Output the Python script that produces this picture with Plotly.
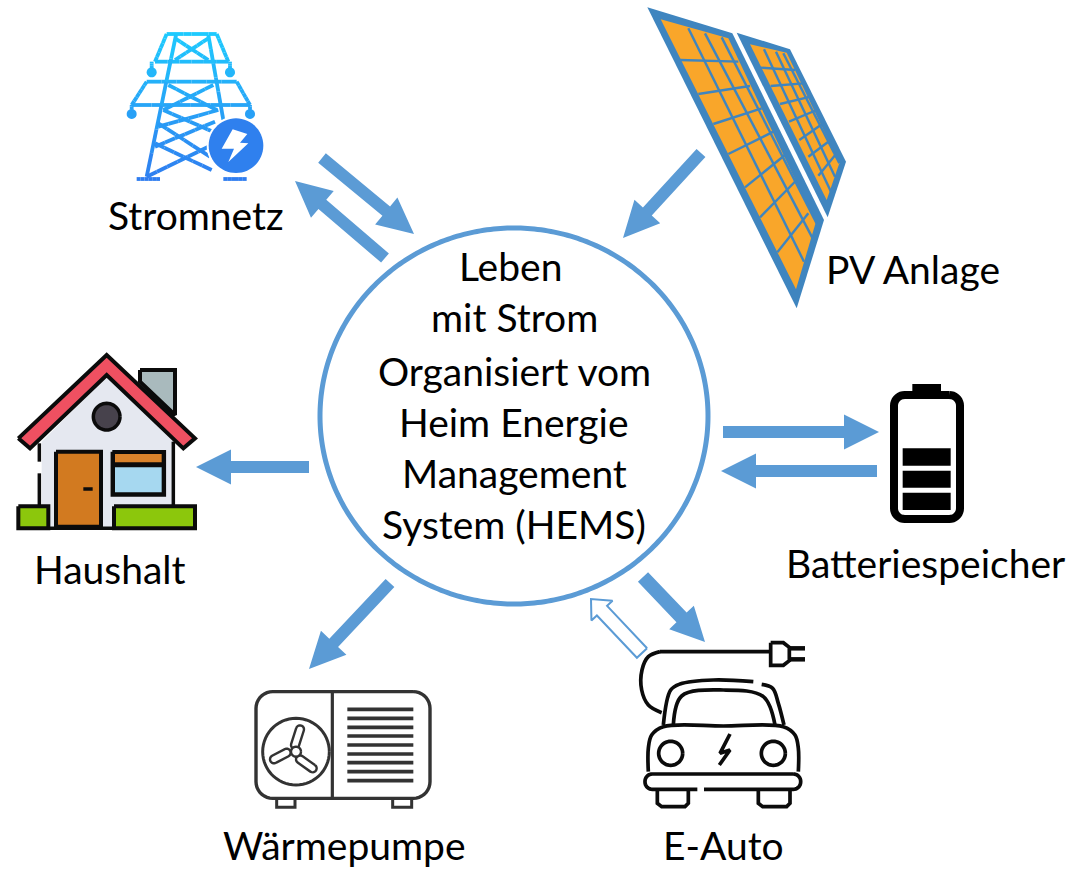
import numpy as np
import plotly.graph_objects as go

W, H = 1071, 870
BLUE = "#5B9BD5"
PANEL = "#3F85BF"
ORANGE = "#F9A62A"
INK = "#0B0B0B"
FONT = "Lato"
FONT_SIZE = 39

# ---------- text ----------
CENTER_LINES = ["Leben", "mit Strom", "Organisiert vom", "Heim Energie", "Management", "System (HEMS)"]
CENTER_POS = [(510, 266), (514, 317), (514, 371), (514, 422), (514, 473), (514, 524)]
LABELS = ["Stromnetz", "PV Anlage", "Batteriespeicher", "Haushalt", "Wärmepumpe", "E-Auto"]
LABEL_POS = [(196, 215), (913, 269), (925, 563), (110, 569), (344, 845), (723, 845)]

# ---------- arrows: tail, tip, shaft width, head width, head length ----------
ARROWS = [
    ((322, 158), (414, 234), 12, 35, 36),
    ((385, 258), (295, 181), 12, 35, 36),
    ((701, 153), (623, 238), 12, 35, 36),
    ((723, 432), (879, 432), 12, 35, 35),
    ((877, 471), (721, 471), 12, 35, 35),
    ((309, 467), (196, 467), 12, 35, 35),
    ((390, 583), (309, 669), 12, 35, 36),
    ((643, 577), (705, 642), 14, 34, 34),
]
HOLLOW_ARROW = ((642, 653), (591, 599), 14, 29, 16)

# ---------- hub ----------
HUB_CENTER = (514, 416)
HUB_RADII = (194, 188)

# ---------- solar panels (crop origin 640,0, crop scale 3) ----------
SOLAR_ORIGIN = (640, 0)
P1_OUTER = [(22, 22), (277, 100), (552, 660), (470, 925)]
P1_INNER = [(62, 58), (265, 115), (527, 668), (468, 868)]
P1_ROWS = [((120, 180), (295, 185)), ((175, 282), (330, 258)), ((220, 372), (365, 325)),
           ((265, 462), (400, 395)), ((315, 562), (435, 465)), ((360, 652), (470, 540)),
           ((412, 757), (505, 640))]
P1_COLS = [((145, 85), (492, 785)), ((195, 100), (518, 715)), ((245, 112), (530, 670))]
P2_OUTER = [(290, 98), (450, 148), (618, 485), (563, 652)]
P2_INNER = [(330, 133), (440, 158), (598, 490), (560, 600)]
P2_ROWS = [((363, 203), (465, 210)), ((392, 258), (490, 250)), ((420, 312), (512, 290)),
           ((447, 365), (530, 330)), ((478, 420), (550, 370)), ((505, 470), (572, 420)),
           ((535, 527), (590, 460))]
P2_COLS = [((372, 148), (575, 580)), ((408, 155), (585, 530)), ((430, 160), (598, 490))]

# ---------- tower (crop origin 100,10) ----------
TOWER_ORIGIN = (100, 10)
TOWER_LINES = [
    [(200, 72), (350, 72)], [(200, 72), (165, 155)], [(350, 72), (385, 155)],
    [(165, 155), (385, 155)], [(225, 85), (325, 150)], [(325, 85), (225, 150)],
    [(140, 215), (410, 215)], [(140, 215), (95, 285)], [(410, 215), (450, 285)],
    [(95, 285), (450, 285)], [(155, 155), (155, 187)], [(390, 155), (390, 187)],
    [(95, 285), (95, 312)], [(450, 285), (450, 312)],
    [(228, 75), (140, 500)], [(325, 75), (370, 330)],
    [(205, 225), (350, 300)], [(340, 225), (190, 300)], [(190, 300), (350, 370)],
    [(355, 300), (175, 350)], [(175, 340), (330, 440)], [(345, 335), (165, 410)],
    [(165, 400), (335, 480)], [(325, 410), (140, 500)],
    [(110, 507), (180, 507)], [(370, 507), (440, 507)],
]
TOWER_DOTS = [(155, 187), (390, 187), (95, 312), (450, 312)]
BADGE = (408, 407, 82)
BOLT = [(398, 358), (442, 372), (420, 398), (445, 400), (385, 456), (402, 416), (365, 416)]

# ---------- house (crop origin 5,345) ----------
HOUSE_ORIGIN = (5, 345)
H_BODY = [(110, 290), (305, 95), (505, 290), (505, 545), (110, 545)]
H_ROOF = [(40, 280), (305, 30), (570, 280), (535, 310), (305, 90), (75, 310)]
H_CHIMNEY = [(405, 75), (510, 75), (510, 210), (405, 110)]
H_DOOR = [(153, 320), (288, 320), (288, 545), (153, 545)]
H_WINDOW = [(322, 320), (478, 320), (478, 450), (322, 450)]
H_SHADE = [(330, 327), (470, 327), (470, 352), (330, 352)]
H_GLASS = [(330, 367), (470, 367), (470, 442), (330, 442)]
H_GRASS_L = [(40, 484), (130, 484), (130, 550), (40, 550)]
H_GRASS_R = [(327, 484), (570, 484), (570, 550), (327, 550)]
H_WALLS = [[(103, 295), (103, 350)], [(103, 385), (103, 480)], [(505, 290), (505, 480)],
           [(40, 550), (570, 550)]]
H_HANDLE = [(235, 432), (263, 432)]
H_PORT = (305, 215, 40)

# ---------- heat pump (crop origin 240,680) ----------
PUMP_ORIGIN = (240, 680)
PUMP_BOX = (48, 35, 570, 355, 50)
PUMP_DIVIDER = [(277, 38), (277, 355)]
PUMP_FAN = (168, 215, 100)
PUMP_BLADES = [[(165, 195), (180, 148)], [(140, 218), (102, 238)], [(180, 238), (218, 265)]]
PUMP_GRILLE_Y = [88, 115, 142, 168, 195, 222, 248, 275, 302]
PUMP_GRILLE_X = (322, 520)
PUMP_FEET = [[(110, 355), (110, 382), (165, 382), (165, 355)], [(458, 355), (458, 382), (515, 382), (515, 355)]]

# ---------- car (crop origin 580,590) ----------
CAR_ORIGIN = (580, 590)
CAR_CABLE_STRAIGHT = [(570, 185), (240, 185)]
CAR_CABLE_CURVE = [(240, 185), (205, 200), (186, 240), (185, 300), (205, 345), (245, 368)]
CAR_PLUG = [(572, 158), (610, 158), (628, 172), (628, 212), (610, 226), (572, 226), (572, 158)]
CAR_PRONGS = [[(630, 175), (675, 175)], [(630, 208), (675, 208)]]
CAR_ROOF_L = [(250, 405), (272, 300), (300, 282), (400, 270), (520, 275)]
CAR_ROOF_R = [(545, 283), (578, 295), (595, 340), (612, 405)]
CAR_SHIELD = [(280, 405), (305, 318), (430, 300), (550, 320), (585, 405)]
CAR_BODY = [(205, 545), (205, 475), (215, 435), (250, 410), (430, 408), (610, 410), (645, 435), (655, 475), (655, 545)]
CAR_LAMPS = [(272, 490, 36), (580, 490, 36)]
CAR_BOLT = [(450, 432), (420, 490), (450, 480), (418, 525)]
CAR_BUMPER = (195, 552, 662, 598, 22)
CAR_BUMPER_GAP = [(352, 598), (372, 598)]
CAR_FEET = [[(232, 600), (232, 640), (245, 650), (315, 650), (325, 640), (325, 600)],
            [(535, 600), (535, 640), (548, 650), (620, 650), (630, 640), (630, 600)]]

# ---------- battery (crop origin 710,375) ----------
BAT_ORIGIN = (710, 375)
BAT_BOX = (552, 60, 750, 432, 32)
BAT_CAP = [(607, 27), (693, 27), (693, 52), (607, 52)]
BAT_BARS = [(578, 220, 722, 272), (578, 287, 722, 338), (578, 353, 722, 405)]

fig = go.Figure()


def crop(pts, origin):
    return [(origin[0] + p[0] / 3, origin[1] + p[1] / 3) for p in pts]


def draw(pts, fill=None, line=None, w=0, close=False, spline=False):
    xs = [float(p[0]) for p in pts]
    ys = [float(p[1]) for p in pts]
    if fill or close:
        xs = xs + xs[:1]
        ys = ys + ys[:1]
    fig.add_trace(go.Scatter(
        x=xs, y=ys, mode="lines",
        fill="toself" if fill else "none",
        fillcolor=fill,
        line=dict(color=line if line else "rgba(0,0,0,0)", width=w,
                  shape="spline" if spline else "linear", simplify=False),
        hoverinfo="skip", showlegend=False,
    ))


def ellipse(cx, cy, rx, ry=None, n=120):
    ry = rx if ry is None else ry
    t = np.linspace(0, 2 * np.pi, n, endpoint=False)
    return list(zip((cx + rx * np.cos(t)).tolist(), (cy + ry * np.sin(t)).tolist()))


def rounded(x0, y0, x1, y1, r, n=10):
    pts = []
    for cx, cy, a0 in [(x1 - r, y0 + r, -90), (x1 - r, y1 - r, 0), (x0 + r, y1 - r, 90), (x0 + r, y0 + r, 180)]:
        for a in np.radians(np.linspace(a0, a0 + 90, n)):
            pts.append((cx + r * np.cos(a), cy + r * np.sin(a)))
    return pts


def capsule(a, b, r, n=10):
    a, b = np.array(a, float), np.array(b, float)
    base = np.arctan2(*(b - a)[::-1])
    pts = []
    for c, start in [(b, base - np.pi / 2), (a, base + np.pi / 2)]:
        for ang in np.linspace(start, start + np.pi, n):
            pts.append((c[0] + r * np.cos(ang), c[1] + r * np.sin(ang)))
    return pts


def rect(b):
    return [(b[0], b[1]), (b[2], b[1]), (b[2], b[3]), (b[0], b[3])]


def arrow(tail, tip, sw, hw, hl):
    t, p = np.array(tail, float), np.array(tip, float)
    d = (p - t) / np.linalg.norm(p - t)
    n = np.array([-d[1], d[0]])
    b = p - d * hl
    return [tuple(v) for v in (t + n * sw / 2, b + n * sw / 2, b + n * hw / 2, p,
                               b - n * hw / 2, b - n * sw / 2, t - n * sw / 2)]


def tower_color(y):
    f = min(max((y - 30) / 150, 0), 1)
    a, b = np.array([30, 205, 255]), np.array([48, 125, 240])
    c = a + (b - a) * f
    return "rgb(%d,%d,%d)" % tuple(c)


# hub
draw(ellipse(*HUB_CENTER, *HUB_RADII, n=360), line=BLUE, w=5, close=True)

# arrows
for a in ARROWS:
    draw(arrow(*a), fill=BLUE)
draw(arrow(*HOLLOW_ARROW), fill="#FFFFFF", line=BLUE, w=2)

# solar panels
for outer, inner, rows, cols in [(P1_OUTER, P1_INNER, P1_ROWS, P1_COLS), (P2_OUTER, P2_INNER, P2_ROWS, P2_COLS)]:
    draw(crop(outer, SOLAR_ORIGIN), fill=PANEL)
    draw(crop(inner, SOLAR_ORIGIN), fill=ORANGE)
    for seg in rows:
        draw(crop(seg, SOLAR_ORIGIN), line=PANEL, w=2.4)
    for seg in cols:
        draw(crop(seg, SOLAR_ORIGIN), line=PANEL, w=2.4)

# tower
for seg in TOWER_LINES:
    a, b = np.array(crop(seg, TOWER_ORIGIN))
    for i in range(6):
        p, q = a + (b - a) * i / 6, a + (b - a) * (i + 1) / 6
        draw([tuple(p), tuple(q)], line=tower_color((p[1] + q[1]) / 2), w=3.8)
for d in TOWER_DOTS:
    o = crop([d], TOWER_ORIGIN)[0]
    draw(ellipse(o[0], o[1], 5, n=24), fill=tower_color(o[1]))
bc = crop([BADGE[:2]], TOWER_ORIGIN)[0]
draw(ellipse(bc[0], bc[1], BADGE[2] / 3 + 2, n=60), fill="#FFFFFF")
draw(ellipse(bc[0], bc[1], BADGE[2] / 3, n=60), fill="#2F80EE")
draw(crop(BOLT, TOWER_ORIGIN), fill="#FFFFFF")

# house
h = lambda pts: crop(pts, HOUSE_ORIGIN)
draw(h(H_BODY), fill="#E5E8F0")
for seg in H_WALLS:
    draw(h(seg), line=INK, w=3.5)
draw(h(H_CHIMNEY), fill="#A9BABD", line=INK, w=4)
draw(h(H_ROOF), fill="#EF5061", line=INK, w=4)
c = h([H_PORT[:2]])[0]
draw(ellipse(c[0], c[1], H_PORT[2] / 3, n=48), fill="#47424C", line=INK, w=3.5, close=True)
draw(h(H_DOOR), fill="#D27A20", line=INK, w=4)
draw(h(H_HANDLE), line=INK, w=3.5)
draw(h(H_WINDOW), fill=INK, line=INK, w=3.5)
draw(h(H_SHADE), fill="#D9822B")
draw(h(H_GLASS), fill="#A6D8F0")
draw(h(H_GRASS_L), fill="#8CC70C", line=INK, w=4)
draw(h(H_GRASS_R), fill="#8CC70C", line=INK, w=4)

# heat pump
g = lambda pts: crop(pts, PUMP_ORIGIN)
PUMP_INK = "#333333"
b0 = g([PUMP_BOX[:2]])[0]
b1 = g([PUMP_BOX[2:4]])[0]
draw(rounded(b0[0], b0[1], b1[0], b1[1], PUMP_BOX[4] / 3), line=PUMP_INK, w=3.4, close=True)
draw(g(PUMP_DIVIDER), line=PUMP_INK, w=3.2)
fc = g([PUMP_FAN[:2]])[0]
draw(ellipse(fc[0], fc[1], PUMP_FAN[2] / 3, n=60), line=PUMP_INK, w=3, close=True)
for blade in PUMP_BLADES:
    pa, pb = g(blade)
    draw(capsule(pa, pb, 4), fill="#FFFFFF", line=PUMP_INK, w=2.4)
draw(ellipse(fc[0], fc[1], 5, n=24), fill="#FFFFFF", line=PUMP_INK, w=2.4, close=True)
for y in PUMP_GRILLE_Y:
    draw(g([(PUMP_GRILLE_X[0], y), (PUMP_GRILLE_X[1], y)]), line=PUMP_INK, w=3.6)
for foot in PUMP_FEET:
    draw(g(foot), line=PUMP_INK, w=3)

# car
k = lambda pts: crop(pts, CAR_ORIGIN)
CAR_W = 3.7
draw(k(CAR_CABLE_STRAIGHT), line=INK, w=CAR_W)
draw(k(CAR_CABLE_CURVE), line=INK, w=CAR_W, spline=True)
draw(k(CAR_PLUG), line=INK, w=CAR_W)
for seg in CAR_PRONGS:
    draw(k(seg), line=INK, w=4.5)
draw(k(CAR_ROOF_L), line=INK, w=CAR_W, spline=True)
draw(k(CAR_ROOF_R), line=INK, w=CAR_W, spline=True)
draw(k(CAR_SHIELD), line=INK, w=CAR_W, spline=True)
draw(k(CAR_BODY), line=INK, w=CAR_W, spline=True)
for x, y, r in CAR_LAMPS:
    c = k([(x, y)])[0]
    draw(ellipse(c[0], c[1], r / 3, n=48), line=INK, w=CAR_W, close=True)
draw(k(CAR_BOLT), line=INK, w=CAR_W)
b0 = k([CAR_BUMPER[:2]])[0]
b1 = k([CAR_BUMPER[2:4]])[0]
draw(rounded(b0[0], b0[1], b1[0], b1[1], CAR_BUMPER[4] / 3), line=INK, w=CAR_W, close=True)
draw(k(CAR_BUMPER_GAP), line="#FFFFFF", w=CAR_W + 2)
for foot in CAR_FEET:
    draw(k(foot), line=INK, w=CAR_W)

# battery
t = lambda pts: crop(pts, BAT_ORIGIN)
b0 = t([BAT_BOX[:2]])[0]
b1 = t([BAT_BOX[2:4]])[0]
draw(rounded(b0[0], b0[1], b1[0], b1[1], BAT_BOX[4] / 3), line="#000000", w=8, close=True)
draw(t(BAT_CAP), fill="#000000")
for bar in BAT_BARS:
    draw(t(rect(bar)), fill="#000000")

annotations = []
for txt, (x, y) in list(zip(CENTER_LINES, CENTER_POS)) + list(zip(LABELS, LABEL_POS)):
    annotations.append(dict(x=x, y=y, xref="x", yref="y", text=txt, showarrow=False,
                            xanchor="center", yanchor="middle",
                            font=dict(family=FONT, size=FONT_SIZE, color="#000000")))

fig.update_layout(
    width=W, height=H, margin=dict(l=0, r=0, t=0, b=0, pad=0, autoexpand=False),
    paper_bgcolor="#FFFFFF", plot_bgcolor="#FFFFFF", showlegend=False,
    xaxis=dict(range=[0, W], visible=False, fixedrange=True),
    yaxis=dict(range=[H, 0], visible=False, fixedrange=True),
    annotations=annotations,
)
fig.write_html("out.html", config={"displayModeBar": False},
               post_script="document.body.style.margin='0';document.body.style.overflow='hidden';")
